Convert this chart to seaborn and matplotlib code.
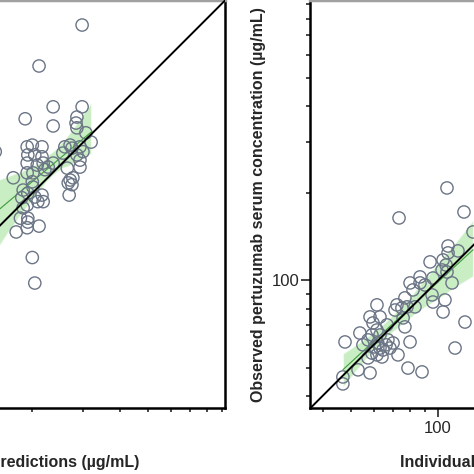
import numpy as np
import pandas as pd
import matplotlib.pyplot as plt
import seaborn as sns

# Observed vs population predictions (ug/mL)
pop_pred = [297, 211, 236, 297, 189, 236, 285, 283, 285, 306, 319, 259, 270, 274, 292,
            299, 255, 285, 292, 200, 192, 216, 193, 204, 216, 192, 208, 218, 227, 236,
            221, 264, 292, 192, 201, 172, 200, 201, 186, 193, 270, 276, 266, 274, 268,
            184, 204, 216, 218, 209, 192, 186, 182, 193, 193, 192, 211, 176, 200, 204, 149]
pop_obs = [760, 549, 397, 397, 361, 341, 366, 349, 336, 323, 300, 289, 293, 286, 289,
           278, 275, 271, 260, 293, 289, 289, 271, 271, 267, 254, 250, 254, 246, 254,
           241, 244, 246, 235, 235, 226, 219, 210, 205, 200, 222, 226, 217, 214, 197,
           193, 194, 197, 187, 187, 182, 178, 164, 164, 159, 152, 154, 147, 120, 98, 278]

# Observed vs individual predictions (ug/mL)
ind_pred = [107.4, 73.4, 122.9, 132.1, 108.3, 117.2, 108.3, 93.9, 104.1, 106.6, 103.3,
            86.7, 96.1, 107.4, 80.1, 86.7, 90.2, 111.8, 82.0, 95.4, 105.7, 96.1, 76.9,
            72.2, 75.1, 78.2, 83.3, 71.1, 61.6, 104.1, 123.9, 58.3, 63.1, 59.7, 75.8,
            66.7, 76.9, 53.8, 61.6, 59.2, 63.1, 57.4, 47.8, 55.1, 67.2, 70.0, 80.1, 60.6,
            63.1, 64.6, 68.3, 59.2, 61.6, 64.1, 72.8, 57.4, 114.5, 53.0, 78.8, 88.1, 58.3,
            47.0, 47.0, 66.2, 62.0]
ind_obs = [208.5, 164.3, 172.3, 147.0, 131.5, 126.5, 124.5, 115.9, 117.7, 113.1, 108.7,
           102.9, 102.0, 107.0, 98.1, 98.1, 96.5, 98.1, 92.8, 89.2, 85.7, 84.3, 87.1,
           82.4, 80.4, 81.1, 81.1, 79.1, 82.4, 77.9, 71.9, 74.9, 74.9, 71.4, 74.3,
           70.3, 69.2, 65.9, 67.5, 64.9, 64.9, 62.4, 61.4, 60.0, 62.4, 60.9, 61.4, 59.0,
           58.5, 57.6, 58.5, 56.2, 55.4, 54.5, 55.4, 54.1, 58.5, 49.2, 49.9, 48.4, 48.0,
           46.5, 44.0, 60.0, 60.9]

axis_lim = [36.2, 927]
major_ticks = [100]
major_labels = ['100']
minor_ticks = [40, 50, 60, 70, 80, 90, 200, 300, 400, 500, 600, 700, 800, 900]

ylab = "Observed pertuzumab serum concentration (\u00b5g/mL)"

sns.set_style('ticks')
plt.rcParams['font.family'] = ['Liberation Sans', 'DejaVu Sans']

fig = plt.figure(figsize=(4.74, 4.74), dpi=100)
ax1 = fig.add_axes([-0.3861, 0.1382, 0.8618, 0.8618])
ax2 = fig.add_axes([0.654, 0.1382, 0.8618, 0.8618])


def draw_panel(ax, pred, obs, xlabel):
    df = pd.DataFrame({'pred': np.log10(pred), 'obs': np.log10(obs)})
    sns.regplot(data=df, x='pred', y='obs', ax=ax, scatter=False, ci=99, seed=3,
                color='#3d9b3d', line_kws={'lw': 0.8, 'zorder': 2})
    band = ax.collections[-1]
    band.set_facecolor('#a6e39c')
    band.set_alpha(0.6)
    band.set_zorder(1)
    sns.scatterplot(data=df, x='pred', y='obs', ax=ax, s=78, marker='o',
                    facecolors='none', edgecolor='#6b7586', linewidth=1.0, zorder=3)
    lims = np.log10(axis_lim)
    ax.plot(lims, lims, color='black', lw=1.4, zorder=4)
    for setter in (ax.set_xticks, ax.set_yticks):
        setter(np.log10(major_ticks))
        setter(np.log10(minor_ticks), minor=True)
    ax.set_xticklabels(major_labels)
    ax.set_yticklabels(major_labels)
    ax.set_xlim(lims)
    ax.set_ylim(lims)
    ax.tick_params(which='major', length=6.5, width=1.2, labelsize=12)
    ax.tick_params(axis='x', which='major', pad=2.5)
    ax.tick_params(axis='y', which='major', pad=1)
    ax.tick_params(which='minor', length=3, width=1.2)
    ax.set_xlabel(xlabel, fontsize=11.5, fontweight='bold', labelpad=14)
    ax.set_ylabel(ylab, fontsize=11.5, fontweight='bold', labelpad=4)
    for side in ['left', 'bottom', 'right']:
        ax.spines[side].set_color('black')
        ax.spines[side].set_linewidth(1.8)
    ax.spines['top'].set_color('#a0a0a0')
    ax.spines['top'].set_linewidth(2.5)


draw_panel(ax1, pop_pred, pop_obs, "Population predictions (\u00b5g/mL)")
draw_panel(ax2, ind_pred, ind_obs, "Individual predictions (\u00b5g/mL)")

fig.savefig('out.png', dpi=100)
